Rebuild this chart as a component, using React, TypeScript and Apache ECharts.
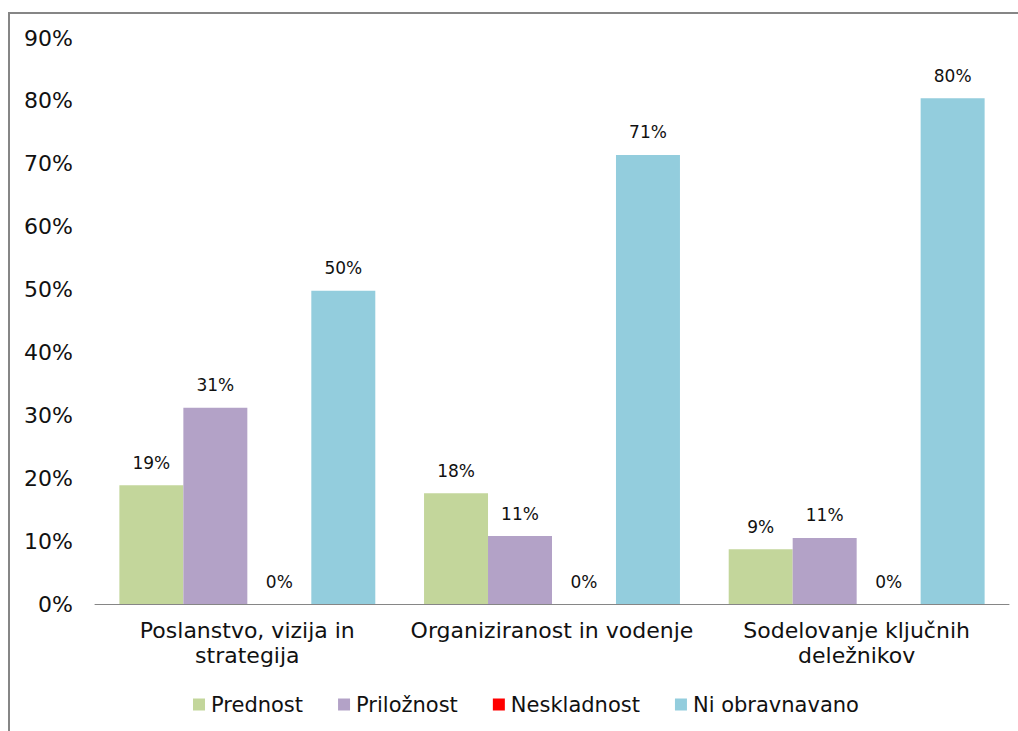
import React, { useEffect, useRef } from "react";
import * as echarts from "echarts";

const categories = [
  "Poslanstvo, vizija in\nstrategija",
  "Organiziranost in vodenje",
  "Sodelovanje ključnih\ndeležnikov",
];
const seriesNames = ["Prednost", "Priložnost", "Neskladnost", "Ni obravnavano"];
const prednost = [18.9, 17.6, 8.7];
const priloznost = [31.2, 10.8, 10.5];
const neskladnost = [0, 0, 0];
const niObravnavano = [49.8, 71.4, 80.4];
const colors = ["#C3D69B", "#B3A2C7", "#FF0000", "#93CDDD"];
const yTicks = [0, 10, 20, 30, 40, 50, 60, 70, 80, 90];

const FONT = "DejaVu Sans";

export default function App() {
  const ref = useRef<HTMLDivElement>(null);
  useEffect(() => {
    const chart = echarts.init(ref.current!, null, { renderer: "svg" });
    const values = [prednost, priloznost, neskladnost, niObravnavano];
    chart.setOption({
      animation: false,
      textStyle: { fontFamily: FONT },
      graphic: [
        {
          type: "rect",
          shape: { x: 9, y: 13, width: 1200, height: 900 },
          style: { fill: "none", stroke: "#868686", lineWidth: 2 },
          silent: true,
        },
      ],
      legend: {
        bottom: 11,
        left: 188,
        icon: "rect",
        itemWidth: 12,
        itemHeight: 12,
        itemGap: 35,
        textStyle: { fontFamily: FONT, fontSize: 21, color: "#111", padding: [0, 0, 0, 1] },
        data: seriesNames,
      },
      grid: { left: 95, right: 9, top: 38, bottom: 127, containLabel: false },
      xAxis: {
        type: "category",
        data: categories,
        axisLine: { lineStyle: { color: "#868686", width: 1 } },
        axisTick: { show: false },
        axisLabel: {
          fontFamily: FONT,
          fontSize: 22,
          color: "#111",
          margin: 14,
          lineHeight: 25,
          interval: 0,
        },
      },
      yAxis: {
        type: "value",
        min: 0,
        max: 90,
        interval: 10,
        axisLine: { show: false },
        axisTick: { show: false },
        splitLine: { show: false },
        axisLabel: {
          fontFamily: FONT,
          fontSize: 22,
          color: "#111",
          margin: 22,
          formatter: (v: number) => (yTicks.includes(v) ? v + "%" : ""),
        },
      },
      series: seriesNames.map((name, i) => ({
        name,
        type: "bar",
        data: values[i],
        barGap: "0%",
        barCategoryGap: "16%",
        itemStyle: { color: colors[i] },
        label: {
          show: true,
          position: "top",
          distance: 14,
          fontFamily: FONT,
          fontSize: 17,
          color: "#111",
          formatter: (p: any) => Math.round(p.value) + "%",
        },
      })),
    });
    return () => chart.dispose();
  }, []);
  return (
    <div
      ref={ref}
      style={{ position: "fixed", left: 0, top: 0, width: 1018, height: 731, background: "#fff" }}
    />
  );
}
